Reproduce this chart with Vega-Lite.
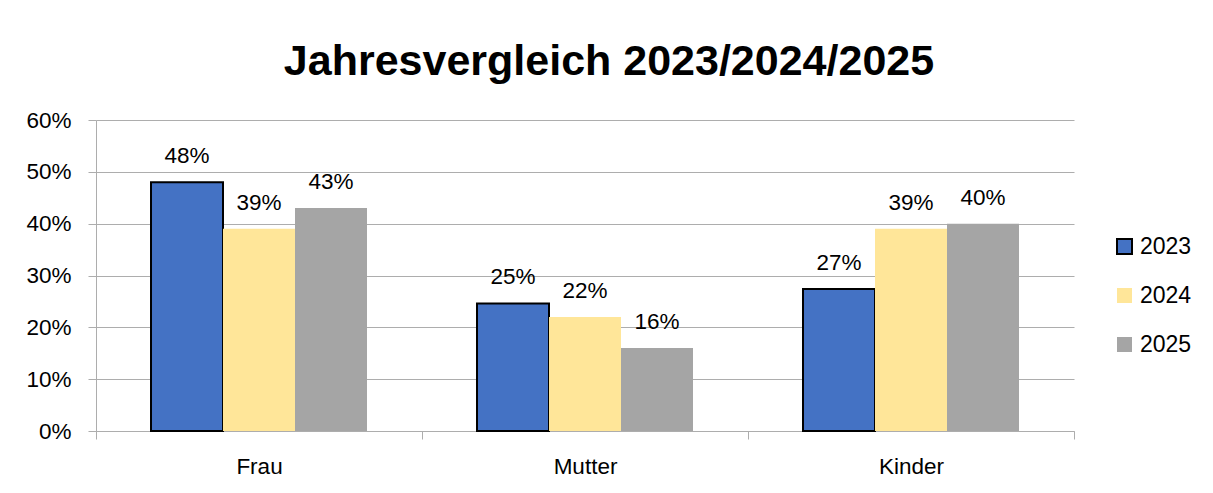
{
  "$schema": "https://vega.github.io/schema/vega-lite/v6.json",
  "width": 978,
  "height": 311,
  "padding": {"left": 25, "top": 41, "right": 5, "bottom": 5},
  "background": "white",
  "title": {
    "text": "Jahresvergleich 2023/2024/2025",
    "font": "Liberation Sans",
    "fontSize": 43,
    "fontWeight": "bold",
    "color": "black",
    "anchor": "middle",
    "frame": "bounds",
    "offset": 25
  },
  "config": {
    "view": {"stroke": null},
    "font": "Liberation Sans"
  },
  "data": {
    "values": [
      {"Gruppe": "Frau", "Jahr": "2023", "Anteil": 0.48},
      {"Gruppe": "Frau", "Jahr": "2024", "Anteil": 0.39},
      {"Gruppe": "Frau", "Jahr": "2025", "Anteil": 0.43},
      {"Gruppe": "Mutter", "Jahr": "2023", "Anteil": 0.246},
      {"Gruppe": "Mutter", "Jahr": "2024", "Anteil": 0.22},
      {"Gruppe": "Mutter", "Jahr": "2025", "Anteil": 0.16},
      {"Gruppe": "Kinder", "Jahr": "2023", "Anteil": 0.274},
      {"Gruppe": "Kinder", "Jahr": "2024", "Anteil": 0.39},
      {"Gruppe": "Kinder", "Jahr": "2025", "Anteil": 0.40}
    ]
  },
  "encoding": {
    "x": {
      "field": "Gruppe",
      "type": "nominal",
      "sort": null,
      "title": null,
      "scale": {"paddingInner": 0, "paddingOuter": 0},
      "axis": {
        "labelAngle": 0,
        "labelFont": "Liberation Sans",
        "labelFontSize": 22.5,
        "labelColor": "black",
        "labelBaseline": "alphabetic",
        "labelPadding": 34,
        "tickBand": "extent",
        "tickSize": 8,
        "tickColor": "#ADADAD",
        "domainColor": "#ADADAD",
        "grid": false
      }
    },
    "xOffset": {
      "field": "Jahr",
      "type": "nominal",
      "scale": {"paddingInner": 0, "paddingOuter": 0.764}
    },
    "y": {
      "field": "Anteil",
      "type": "quantitative",
      "title": null,
      "scale": {"domain": [0, 0.6], "nice": false},
      "axis": {
        "values": [0, 0.1, 0.2, 0.3, 0.4, 0.5, 0.6],
        "format": ".0%",
        "labelFont": "Liberation Sans",
        "labelFontSize": 22.5,
        "labelColor": "black",
        "labelPadding": 17,
        "tickSize": 8,
        "tickColor": "#ADADAD",
        "domainColor": "#ADADAD",
        "gridColor": "#ADADAD",
        "gridWidth": 1
      }
    }
  },
  "layer": [
    {
      "mark": {"type": "bar", "strokeWidth": 2},
      "encoding": {
        "color": {
          "field": "Jahr",
          "type": "nominal",
          "title": null,
          "scale": {"domain": ["2023", "2024", "2025"], "range": ["#4472C4", "#FFE699", "#A5A5A5"]},
          "legend": {
            "orient": "none",
            "legendX": 1017,
            "legendY": 115,
            "padding": 0,
            "symbolType": "square",
            "symbolSize": 225,
            "symbolStrokeWidth": 2,
            "labelFont": "Liberation Sans",
            "labelFontSize": 23,
            "labelColor": "black",
            "labelOffset": 4,
            "rowPadding": 25
          }
        },
        "stroke": {
          "field": "Jahr",
          "type": "nominal",
          "scale": {"domain": ["2023", "2024", "2025"], "range": ["black", "transparent", "transparent"]}
        }
      }
    },
    {
      "mark": {
        "type": "text",
        "baseline": "alphabetic",
        "dy": -19,
        "font": "Liberation Sans",
        "fontSize": 22.5,
        "color": "black"
      },
      "encoding": {
        "text": {"field": "Anteil", "type": "quantitative", "format": ".0%"}
      }
    }
  ]
}
